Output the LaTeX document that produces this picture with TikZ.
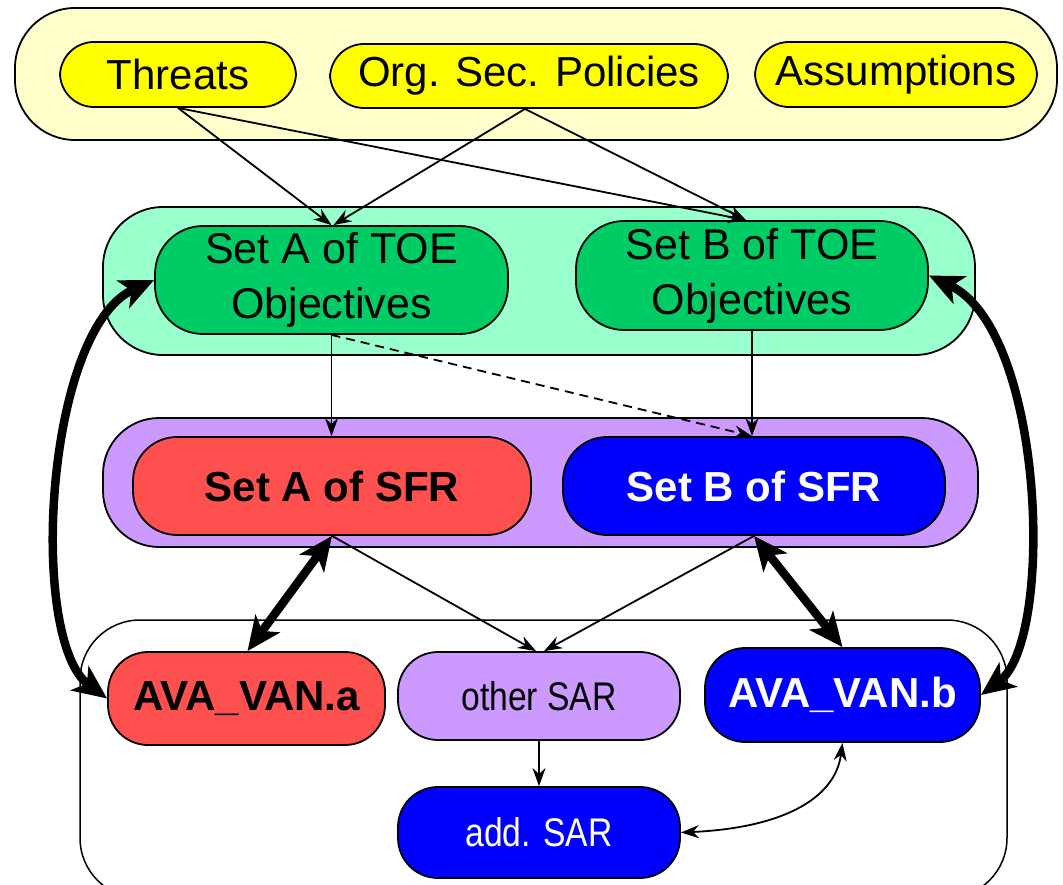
\documentclass[tikz,border=0pt]{standalone}
\usepackage{fontspec}
\setmainfont{Liberation Sans}
\newfontfamily\narrowfont[FakeStretch=0.84]{Liberation Sans}
\usetikzlibrary{arrows.meta}
\definecolor{paleyellow}{HTML}{FFFFCC}
\definecolor{sunyellow}{HTML}{FFFF00}
\definecolor{palegreen}{HTML}{99FFCC}
\definecolor{objgreen}{HTML}{00CC66}
\definecolor{lilac}{HTML}{CC99FF}
\definecolor{sfrred}{HTML}{FF5050}
\definecolor{sfrblue}{HTML}{0000FF}
\tikzset{
  x=1pt, y=-1pt,
  group/.style={draw=black, line width=1.8pt, rounded corners=60pt},
  item/.style={draw=black, line width=1.8pt, rounded corners=34pt, align=center,
    font=\fontsize{42}{50}\selectfont, inner sep=0pt},
  toebox/.style={item, fill=objgreen, font=\fontsize{43}{52}\selectfont},
  redbox/.style={item, fill=sfrred, font=\bfseries\fontsize{42}{50}\selectfont},
  bluebox/.style={item, fill=sfrblue, text=white, font=\bfseries\fontsize{42}{50}\selectfont},
  sarbox/.style={item, font=\narrowfont\fontsize{40}{48}\selectfont},
  link/.style={line width=1.8pt, -{Stealth[length=18pt,width=13pt]}},
  duallink/.style={line width=1.8pt, {Stealth[length=18pt,width=13pt]}-{Stealth[length=18pt,width=13pt]}},
  heavylink/.style={line width=8.5pt, {Stealth[length=34pt,width=30pt,inset=9pt]}-{Stealth[length=34pt,width=30pt,inset=9pt]}},
}
\begin{document}
\begin{tikzpicture}
\useasboundingbox (0,0) rectangle (1063,885);
\clip (0,0) rectangle (1063,885);
\fill[white] (0,0) rectangle (1063,885);

% group backgrounds
\draw[group, fill=paleyellow] (15,8) rectangle (1057,140);
\draw[group, fill=palegreen] (103,207) rectangle (975,355);
\draw[group, fill=lilac, rounded corners=56pt] (103,418) rectangle (978,547);
\draw[group, line width=1.5pt] (80,620) rectangle (1007,898);

% sources
\node[item, fill=sunyellow, minimum width=236pt, minimum height=65pt] (threats) at (178,74.5) {Threats};
\node[item, fill=sunyellow, minimum width=398pt, minimum height=64pt] (osp) at (529,76) {Org. Sec. Policies};
\node[item, fill=sunyellow, minimum width=282pt, minimum height=65pt] (assum) at (896,74.5) {Assumptions};

% objectives
\node[toebox, minimum width=353pt, minimum height=108pt, rounded corners=48pt] (toeA) at (331.5,280) {Set A of TOE\\[3pt]Objectives};
\node[toebox, minimum width=352pt, minimum height=109pt, rounded corners=48pt] (toeB) at (752,275.5) {Set B of TOE\\[3pt]Objectives};

% functional requirements
\node[redbox, minimum width=398pt, minimum height=98pt, rounded corners=44pt] (sfrA) at (332,486) {Set A of SFR};
\node[bluebox, minimum width=382pt, minimum height=98pt, rounded corners=44pt] (sfrB) at (754,486) {Set B of SFR};

% assurance requirements
\node[redbox, minimum width=277pt, minimum height=93pt, rounded corners=40pt] (avaA) at (246.5,698.5) {AVA\_VAN.a};
\node[sarbox, fill=lilac, minimum width=282pt, minimum height=88pt, rounded corners=40pt] (other) at (539,696) {other SAR};
\node[bluebox, minimum width=275pt, minimum height=94pt, rounded corners=40pt] (avaB) at (842.5,695) {AVA\_VAN.b};
\node[sarbox, fill=sfrblue, text=white, minimum width=282pt, minimum height=91pt, rounded corners=40pt] (add) at (539,832.5) {add. SAR};

% derivation of objectives
\draw[link] (threats.south) -- (toeA.north);
\draw[link] (threats.south) -- ([xshift=-6pt]toeB.north);
\draw[link] ([xshift=-4pt]osp.south) -- ([xshift=2pt]toeA.north);
\draw[link] ([xshift=-4pt]osp.south) -- ([xshift=-6pt]toeB.north);

% objectives to SFR
\draw[link] (toeA.south) -- (toeA.south |- sfrA.north);
\draw[link] (toeB.south) -- (toeB.south |- sfrB.north);
\draw[link, dashed, dash pattern=on 9pt off 6pt] (toeA.south) -- (toeB.south |- sfrB.north);

% SFR to SAR
\draw[link] (sfrA.south) -- ([xshift=-3pt]other.north);
\draw[link] (sfrB.south) -- ([xshift=5pt]other.north);
\draw[link] (other.south) -- (add.north);

% strong dependencies
\draw[heavylink] (sfrA.south) -- ([xshift=1pt]avaA.north);
\draw[heavylink] (sfrB.south) -- ([xshift=0pt]avaB.north);
\draw[heavylink] (toeA.west) .. controls (45,330) and (28,640) .. (avaA.west);
\draw[heavylink] (toeB.east) .. controls (1045,330) and (1055,640) .. (avaB.east);

% additional assurance
\draw[duallink] (add.east) .. controls (780,828) and (835,800) .. (avaB.south);
\end{tikzpicture}
\end{document}
